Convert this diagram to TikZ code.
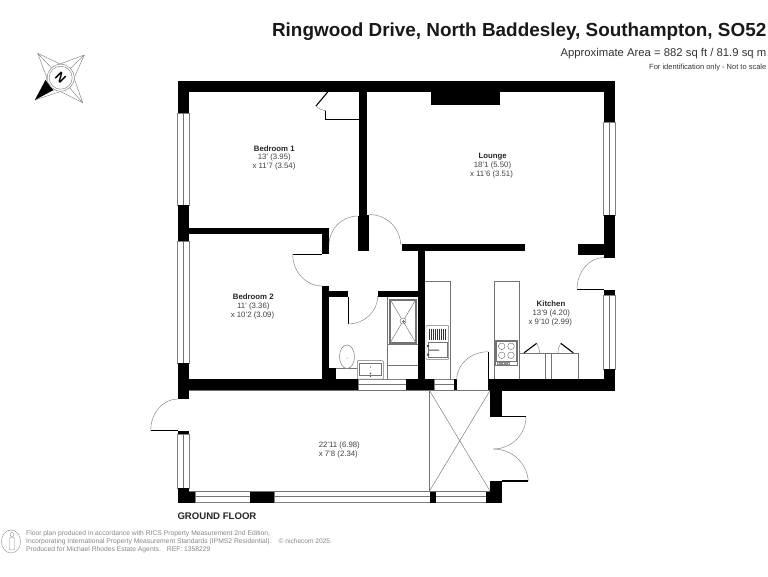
\documentclass[tikz,border=0pt]{standalone}
\usepackage{fontspec}
\usetikzlibrary{calc}
\setmainfont{Liberation Sans}
\tikzset{
  wall/.style={fill=black},
  fine/.style={draw=black!55,line width=0.45pt},
  winframe/.style={draw=black!50,fill=white,line width=0.45pt},
  leaf/.style={draw=black,line width=1.1pt},
  swing/.style={draw=black!50,line width=0.45pt},
  roomname/.style={font=\fontsize{7.8}{9}\selectfont\bfseries,text=black!85,inner sep=0pt},
  roomdim/.style={font=\fontsize{7.8}{9}\selectfont,text=black!75,inner sep=0pt},
  titletext/.style={anchor=base east,inner sep=0pt},
  foot/.style={anchor=base west,inner sep=0pt,text=black!48,font=\fontsize{6.75}{8}\selectfont},
}
\newcommand{\qswing}[3]{\draw[swing] #1 .. controls ($#1!0.5523!#2$) and ($#3!0.5523!#2$) .. #3;}
\begin{document}
\begin{tikzpicture}[x=1pt,y=-1pt]
\useasboundingbox (0,0) rectangle (768,576);
% title
\node[titletext,font=\fontsize{18.9}{21}\selectfont\bfseries,text=black!90] (title) at (766.5,36) {Ringwood Drive, North Baddesley, Southampton, SO52};
\node[titletext,font=\fontsize{11.3}{13}\selectfont,text=black!80] (area) at (766.5,56.5) {Approximate Area = 882 sq ft / 81.9 sq m};
\node[titletext,font=\fontsize{7.5}{9}\selectfont,text=black!80] (idonly) at (766.5,69) {For identification only - Not to scale};
% compass
\draw[swing,line join=round] (37.7,53.3) -- (60,64) -- (84.3,55) -- (74,78) -- (82.7,102.7) -- (60.5,91.5) -- (35,100) -- (47,78) -- cycle;
\draw[swing] (37.7,53.3) -- (60.7,77.7) (84.3,55) -- (60.7,77.7) (82.7,102.7) -- (60.7,77.7);
\fill[black] (35,100) -- (45.5,80) -- (53.5,90) -- cycle;
\draw[swing,fill=white] (60.7,77.7) circle (13.5);
\draw[swing] (60.7,77.7) circle (11.5);
\node[font=\fontsize{13}{14}\selectfont\bfseries,rotate=-45,inner sep=0pt] (north) at (60.7,77.7) {N};
% windows (frame with mid line)
\draw[winframe] (177.5,113) rectangle (189,205);
\draw[fine] (183.3,113) -- (183.3,205);
\draw[winframe] (177.5,241) rectangle (189,363);
\draw[fine] (183.3,241) -- (183.3,363);
\draw[winframe] (177.5,434) rectangle (189,488);
\draw[fine] (183.3,434) -- (183.3,488);
\draw[winframe] (603.5,122) rectangle (615,215);
\draw[fine] (609.3,122) -- (609.3,215);
\draw[winframe] (603.5,295) rectangle (615,369);
\draw[fine] (609.3,295) -- (609.3,369);
\draw[winframe] (358,379) rectangle (406,390);
\draw[fine] (358,384.5) -- (406,384.5);
\draw[winframe] (434,379) rectangle (454,390);
\draw[fine] (434,384.5) -- (454,384.5);
\draw[winframe] (195,491) rectangle (250,502.5);
\draw[fine] (195,496.5) -- (250,496.5);
\draw[winframe] (274,491) rectangle (430,502.5);
\draw[fine] (274,496.5) -- (430,496.5);
\draw[winframe] (435.5,491) rectangle (486,502.5);
\draw[fine] (435.5,496.5) -- (486,496.5);
% outer walls
\fill[wall] (177.5,80.5) rectangle (615,92);
\fill[wall] (177.5,80.5) rectangle (189,113);
\fill[wall] (177.5,205) rectangle (189,241);
\fill[wall] (177.5,363) rectangle (189,399);
\fill[wall] (177.5,379) rectangle (358,390);
\fill[wall] (406,379) rectangle (434,390);
\fill[wall] (454,379) rectangle (457,390);
\fill[wall] (488,379.3) rectangle (615,390.5);
\fill[wall] (490.3,379.3) rectangle (501.7,416.7);
\fill[wall] (603.5,80.5) rectangle (615,122);
\fill[wall] (603.5,215) rectangle (615,257.5);
\fill[wall] (577.5,244) rectangle (615,255);
\fill[wall] (604,289.5) rectangle (615,295);
\fill[wall] (603.5,369) rectangle (615,390.5);
\fill[wall] (430.7,92) rectangle (500.3,104.7);
% inner walls
\fill[wall] (359.3,92) rectangle (366.7,216);
\fill[wall] (358,216) rectangle (366.7,250.7);
\fill[wall] (189,227.7) rectangle (329,234.3);
\fill[wall] (322.3,227.7) rectangle (329,254.3);
\fill[wall] (322.3,286) rectangle (329,379);
\fill[wall] (322.3,368) rectangle (335.7,379);
\fill[wall] (322.3,290.7) rectangle (347.7,297.3);
\fill[wall] (377.7,290.7) rectangle (425,297.3);
\fill[wall] (401.5,244) rectangle (525.3,250.7);
\fill[wall] (417.5,244) rectangle (425,390);
% porch walls
\fill[wall] (177.7,430.5) rectangle (189,434);
\fill[wall] (177.7,488) rectangle (189,502.5);
\fill[wall] (177.7,491) rectangle (195,502.5);
\fill[wall] (250,491) rectangle (274.3,502.5);
\fill[wall] (430,491) rectangle (435.5,502.5);
\fill[wall] (486,491) rectangle (501.7,502.5);
\fill[wall] (490,481) rectangle (501.7,502.5);
% lean-to outline
\draw[fine] (189,390.5) -- (490,390.5);
\draw[fine] (189,491) -- (490,491);
\draw[fine] (429.5,390.5) -- (429.5,491);
\draw[fine] (429.5,390.5) -- (490,491);
\draw[fine] (490,390.5) -- (429.5,491);
% doors
\qswing{(329,245)}{(329,216)}{(358,216)}
\draw[draw=black,line width=1.3pt] (368,215) -- (368,250.7);
\fill[wall] (366.7,240) rectangle (368,250.7);
\qswing{(369,214.5)}{(400.5,214.5)}{(400.5,244.5)}
\draw[leaf] (292.7,254.4) -- (322.3,254.4);
\qswing{(292.7,254.4)}{(292.7,286)}{(322.3,286)}
\draw[leaf] (348.3,297) -- (348.3,324);
\qswing{(348,324)}{(377.7,324)}{(377.7,296)}
\draw[leaf] (488.3,352) -- (488.3,380);
\qswing{(488.3,351.7)}{(456.7,351.7)}{(456.7,379.7)}
\draw[leaf] (577,289.5) -- (604,289.5);
\qswing{(577,289.5)}{(577,257.5)}{(604,257.5)}
\draw[leaf] (327.7,92) -- (316,106);
\draw[swing] (316,106) .. controls (319,109) and (322,110.5) .. (325.7,110.7);
\draw[leaf] (150.7,430.5) -- (177.7,430.5);
\qswing{(150.7,430.5)}{(150.7,399)}{(177.7,399)}
\draw[leaf] (501.7,416.8) -- (526,416.8);
\draw[swing] (526,416.8) .. controls (526,434) and (512,449) .. (493.3,449);
\draw[leaf] (501.7,481) -- (528.3,481);
\draw[swing] (528.3,481) .. controls (527,463) and (512,449) .. (493.3,449);
% cupboard
\draw[draw=black,line width=1.3pt] (325.7,110.7) -- (325.7,119.3) -- (359.3,119.3);
% bathroom fittings
\draw[fine] (387.7,297.3) -- (387.7,379);
\draw[fine] (387.7,344.5) -- (417.5,344.5);
\draw[fine] (387.7,365.7) -- (417.5,365.7);
\draw[fine] (335.7,368) -- (357.3,368);
\draw[fine] (389.3,299) rectangle (416.7,343.3);
\draw[fine] (390.6,300.3) rectangle (415.4,342);
\draw[fine] (390.6,300.3) -- (415.4,342);
\draw[fine] (415.4,300.3) -- (390.6,342);
\draw[fine,fill=white] (403,321) circle (3);
\draw[fine] (401.5,321) -- (404.5,321) (403,319.5) -- (403,322.5);
\draw[fine,fill=white] (347,356.7) ellipse (7.5 and 11.8);
\fill[black!70] (347,358) circle (0.5);
\draw[fine,fill=white,rounded corners=0.8pt] (357.3,360.7) rectangle (383.3,379);
\draw[fine] (359.5,363) rectangle (381.2,375.5);
\fill[black!70] (370.5,367) circle (0.6) (370.5,373.5) circle (0.8) (370.5,376.5) circle (0.6);
% kitchen fittings
\draw[fine] (425,281.7) -- (450.7,281.7) -- (450.7,379);
\draw[fine,fill=white,rounded corners=0.8pt] (426,325.7) rectangle (448.7,359.3);
\foreach \vx in {429.5,431.5,...,446}{\draw[draw=black!80,line width=0.55pt] (\vx,328.5) -- (\vx,340);}
\draw[fine] (427.8,342.5) rectangle (447,357.5);
\fill[black!70] (427,345) rectangle (429,347) (427,353.5) rectangle (429,355.5) (429,349.5) rectangle (439,350.5);
\draw[fine] (494,379.3) -- (494,281.7) -- (519.3,281.7) -- (519.3,379.3);
\draw[fine] (519.3,353.3) -- (578.3,353.3) -- (578.3,379.3);
\draw[fine] (545.7,353.3) -- (545.7,379.3);
\draw[fine] (551.7,353.3) -- (551.7,379.3);
\draw[fine,fill=white] (495,340.7) rectangle (517.3,365.7);
\draw[fine] (496,341.7) rectangle (516.3,361);
\foreach \hx/\hy in {501.7/346.3,511/346.3,501.7/355.3,511/355.3}{\draw[fine] (\hx,\hy) circle (3.3);}
\foreach \hx in {497.5,500,502.5,505,507.5}{\draw[draw=black!45,line width=0.3pt] (\hx,362.5) rectangle ++(1.6,2);}
\draw[leaf] (524,352.8) -- (536.7,343.3);
\draw[swing] (536.7,343.3) .. controls (538.8,346) and (539.5,349.5) .. (539.3,353.3);
\draw[leaf] (560.7,343.3) -- (573.3,352.8);
\draw[swing] (560.7,343.3) .. controls (558.7,346) and (558,349.5) .. (558.2,353.3);
% room labels
\node[roomname] (bed1) at (274.3,148.7) {Bedroom 1};
\node[roomdim] (bed1a) at (274.3,157.3) {13' (3.95)};
\node[roomdim] (bed1b) at (274,166.2) {x 11'7 (3.54)};
\node[roomname] (lounge) at (492.7,156.5) {Lounge};
\node[roomdim] (lounge1) at (492.5,165.5) {18'1 (5.50)};
\node[roomdim] (lounge2) at (491.5,174.3) {x 11'6 (3.51)};
\node[roomname] (bed2) at (253.3,297) {Bedroom 2};
\node[roomdim] (bed2a) at (253.3,306) {11' (3.36)};
\node[roomdim] (bed2b) at (252.5,315) {x 10'2 (3.09)};
\node[roomname] (kitchen) at (551,304) {Kitchen};
\node[roomdim] (kitchen1) at (551.3,313) {13'9 (4.20)};
\node[roomdim] (kitchen2) at (550.3,322) {x 9'10 (2.99)};
\node[roomdim] (lean1) at (339.3,445) {22'11 (6.98)};
\node[roomdim] (lean2) at (338.3,454.3) {x 7'8 (2.34)};
\node[anchor=base west,inner sep=0pt,font=\fontsize{9.6}{11}\selectfont\bfseries,text=black!85] (ground) at (177.3,519) {GROUND FLOOR};
% footer
\draw[draw=black!45,line width=0.4pt] (11,541.5) ellipse (9.6 and 11.5);
\draw[draw=black!45,line width=0.4pt] (12,534.5) circle (2);
\draw[draw=black!45,line width=0.4pt,rounded corners=1pt] (9.5,537.5) rectangle (14.5,550);
\node[foot] (f1) at (26,535) {Floor plan produced in accordance with RICS Property Measurement 2nd Edition,};
\node[foot] (f2) at (26,543) {Incorporating International Property Measurement Standards (IPMS2 Residential).};
\node[foot] (f3) at (26,551) {Produced for Michael Rhodes Estate Agents.\hspace{6pt}REF: 1358229};
\node[foot,font=\fontsize{6.6}{7}\selectfont] (f4) at (278.5,543) {© nichecom 2025.};
\end{tikzpicture}
\end{document}
